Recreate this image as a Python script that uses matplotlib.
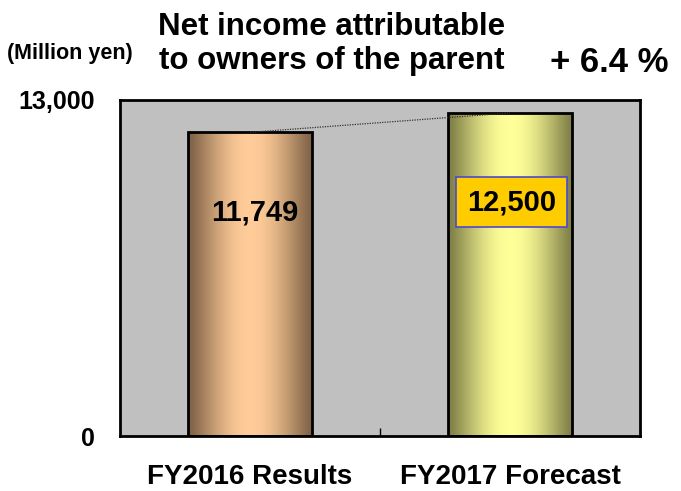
import numpy as np
import matplotlib.pyplot as plt
from matplotlib.colors import LinearSegmentedColormap
from matplotlib.patches import Rectangle

# ---------------------------------------------------------------
# Data
# ---------------------------------------------------------------
categories = ["FY2016 Results", "FY2017 Forecast"]
values = [11749, 12500]
value_labels = ["11,749", "12,500"]
growth_label = "+ 6.4 %"
ytick_values = [0, 13000]
ytick_labels = ["0", "13,000"]

# gradient colours per bar: edge -> centre -> edge
edge_colors = ["#7d6044", "#7d7d46"]
center_colors = ["#ffcc99", "#ffff99"]

plt.rcParams["font.family"] = ["Liberation Sans", "DejaVu Sans"]
plt.rcParams["font.weight"] = "bold"

fig = plt.figure(figsize=(6.81, 4.91), dpi=100)
ax = fig.add_axes([120 / 681, 55 / 491, 520 / 681, 336 / 491])
ax.set_facecolor("#c0c0c0")

bar_w = 0.48
x = np.arange(len(categories))
bars = ax.bar(x, values, width=bar_w, color="none", edgecolor="black",
              linewidth=2, zorder=3)

# horizontal gradient fill, clipped to each bar
grad = np.linspace(0, 1, 256)
profile = np.sin(np.pi * grad) ** 1.2
for bar, c0, c1 in zip(bars, edge_colors, center_colors):
    cmap = LinearSegmentedColormap.from_list("g", [c0, c1])
    x0, w, h = bar.get_x(), bar.get_width(), bar.get_height()
    im = ax.imshow(profile[np.newaxis, :], cmap=cmap, aspect="auto",
                   extent=[x0, x0 + w, 0, h], zorder=2, vmin=0, vmax=1)
    clip = Rectangle((x0, 0), w, h, transform=ax.transData)
    im.set_clip_path(clip)

# dotted connector between the bar tops
ax.plot(x, values, linestyle=(0, (1, 1)), color="#333333", linewidth=0.9,
        zorder=4)

ax.set_xlim(-0.5, 1.5)
ax.set_ylim(0, 13000)

# value labels
ax.text(x[0] + 0.02, 8640, value_labels[0], ha="center", va="center",
        fontsize=21, fontweight="bold", zorder=5)
ax.text(x[1] + 0.005, 9050, value_labels[1], ha="center", va="center",
        fontsize=21, fontweight="bold", zorder=5,
        bbox=dict(boxstyle="square,pad=0.38", facecolor="#ffcc00",
                  edgecolor="#4a4ad0", linewidth=1.2))

# axes styling
for sp in ax.spines.values():
    sp.set_linewidth(2)
ax.set_yticks(ytick_values)
ax.set_yticklabels(ytick_labels, fontsize=18, fontweight="bold")
ax.tick_params(axis="y", length=0, pad=18)
ax.set_xticks(x)
ax.set_xticklabels(categories, fontsize=20, fontweight="bold")
ax.tick_params(axis="x", which="major", length=0, pad=20)
ax.set_xticks([0.5], minor=True)
ax.tick_params(axis="x", which="minor", direction="in", length=6, width=1)

# titles
fig.text(332 / 681, 1 - 35 / 491, "Net income attributable", ha="center",
         va="baseline", fontsize=22.5, fontweight="bold")
fig.text(332 / 681, 1 - 69 / 491, "to owners of the parent", ha="center",
         va="baseline", fontsize=22.5, fontweight="bold")
fig.text(7 / 681, 1 - 59 / 491, "(Million yen)", ha="left", va="baseline",
         fontsize=15.5, fontweight="bold")
fig.text(550 / 681, 1 - 72 / 491, growth_label, ha="left", va="baseline",
         fontsize=25, fontweight="bold")

fig.savefig("out.png", dpi=100)
